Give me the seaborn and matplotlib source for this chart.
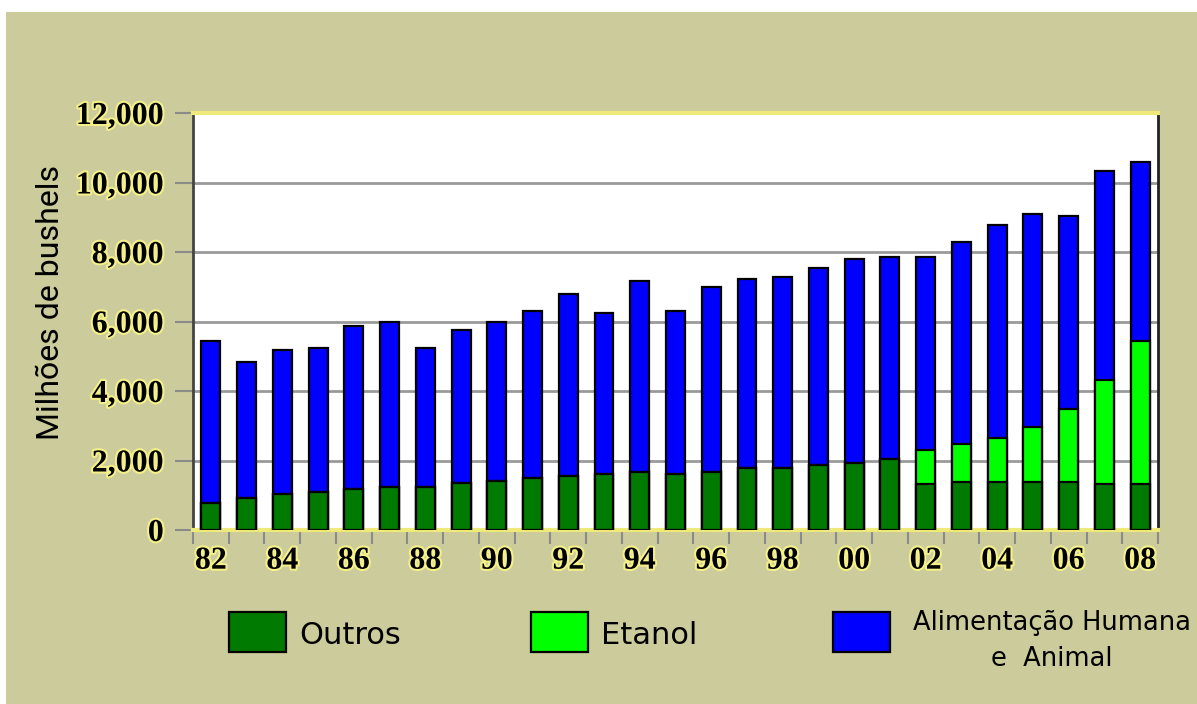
import matplotlib
matplotlib.use("Agg")
import matplotlib.pyplot as plt
import matplotlib.patheffects as pe
from matplotlib.patches import Rectangle
from matplotlib.ticker import FixedLocator, FuncFormatter
from matplotlib.font_manager import FontProperties
import pandas as pd
import seaborn as sns

# dados (milhões de bushels), 1982-2008
anos = ["82", "83", "84", "85", "86", "87", "88", "89", "90", "91", "92", "93", "94",
        "95", "96", "97", "98", "99", "00", "01", "02", "03", "04", "05", "06", "07", "08"]
outros = [777, 920, 1035, 1095, 1180, 1237, 1237, 1350, 1410, 1495, 1550, 1610, 1670,
          1610, 1670, 1785, 1785, 1870, 1930, 2040, 1325, 1380, 1380, 1380, 1380, 1325, 1325]
etanol = [0, 0, 0, 0, 0, 0, 0, 0, 0, 0, 0, 0, 0,
          0, 0, 0, 0, 0, 0, 0, 975, 1090, 1270, 1585, 2100, 2990, 4115]
alimentacao = [4663, 3915, 4145, 4142, 4690, 4748, 4000, 4405, 4575, 4805, 5240, 4635, 5495,
               4690, 5320, 5435, 5495, 5670, 5870, 5815, 5555, 5820, 6130, 6130, 5555, 6015, 5150]
rotulos_x = ["82", "84", "86", "88", "90", "92", "94", "96", "98", "00", "02", "04", "06", "08"]
y_ticks = [0, 2000, 4000, 6000, 8000, 10000, 12000]

cor_fundo = "#CCCB9B"
cor_outros = "#007A00"
cor_etanol = "#00FF00"
cor_alim = "#0000FF"
brilho = "#F4F08A"

df = pd.DataFrame({"ano": anos, "outros": outros, "etanol": etanol, "alim": alimentacao})
df["base_etanol"] = df["outros"] + df["etanol"]
df["total"] = df["base_etanol"] + df["alim"]

W, H = 1197, 704
fig = plt.figure(figsize=(W / 100, H / 100), dpi=100, facecolor="white")
fig.add_artist(Rectangle((6 / W, 0), 1 - 6 / W, (H - 12) / H, transform=fig.transFigure,
                         facecolor=cor_fundo, edgecolor="none", zorder=-10))

ax = fig.add_axes([193 / W, (H - 530) / H, 965 / W, 417 / H])
ax.set_facecolor("white")

# barras empilhadas: desenhar o total e sobrepor as camadas de baixo
kw = dict(x="ano", order=anos, width=0.53, edgecolor="black", linewidth=1.6, ax=ax,
          saturation=1, zorder=3)
sns.barplot(data=df, y="total", color=cor_alim, **kw)
sns.barplot(data=df, y="base_etanol", color=cor_etanol, **kw)
sns.barplot(data=df, y="outros", color=cor_outros, **kw)

ax.set_xlim(-0.5, 26.5)
ax.set_ylim(0, 12000)

ax.yaxis.set_major_locator(FixedLocator(y_ticks))
ax.yaxis.set_major_formatter(FuncFormatter(lambda v, p: f"{int(v):,}"))
ax.grid(axis="y", color="#9A9A9A", linewidth=2, zorder=0)
ax.grid(axis="x", visible=False)
ax.set_axisbelow(True)

pos_rotulos = [anos.index(r) for r in rotulos_x]
ax.set_xticks(pos_rotulos)
ax.set_xticklabels(rotulos_x)
ax.set_xticks([i - 0.5 for i in range(len(anos) + 1)], minor=True)
ax.tick_params(axis="x", which="major", length=0, pad=12)
ax.tick_params(axis="x", which="minor", length=10, width=1.5, color="#8A8A8A")
ax.tick_params(axis="y", length=13, width=1.5, color="#8A8A8A", pad=8)

fonte_num = FontProperties(family="Liberation Serif", weight="bold", size=23)
halo = [pe.withStroke(linewidth=3, foreground=brilho)]
for t in ax.get_xticklabels() + ax.get_yticklabels():
    t.set_fontproperties(fonte_num)
    t.set_path_effects(halo)

for lado in ["top", "bottom"]:
    ax.spines[lado].set_color("#EEEA7A")
    ax.spines[lado].set_linewidth(3)
ax.spines["left"].set_color("#444444")
ax.spines["left"].set_linewidth(2)
ax.spines["right"].set_color("#222222")
ax.spines["right"].set_linewidth(2)

ax.set_xlabel("")
ax.set_ylabel("Milhões de bushels", family="Roboto", fontsize=23)
ax.yaxis.set_label_coords(-0.133, 0.545)

# legenda
itens = [(229, cor_outros, "Outros", 299, 22),
         (531, cor_etanol, "Etanol", 601, 22),
         (833, cor_alim, "Alimentação Humana\ne  Animal", 1052, 18.5)]
for x0, cor, txt, xt, tam in itens:
    fig.add_artist(Rectangle((x0 / W, (H - 652) / H), 57 / W, 40 / H, transform=fig.transFigure,
                             facecolor=cor, edgecolor="black", linewidth=1.6))
    if "\n" in txt:
        fig.text(xt / W, (H - 641) / H, txt, ha="center", va="center", ma="center",
                 family="DejaVu Sans", fontsize=tam, linespacing=1.5)
    else:
        fig.text(xt / W, (H - 635) / H, txt, ha="left", va="center",
                 family="DejaVu Sans", fontsize=tam)

fig.savefig("out.png", dpi=100, facecolor=fig.get_facecolor())
